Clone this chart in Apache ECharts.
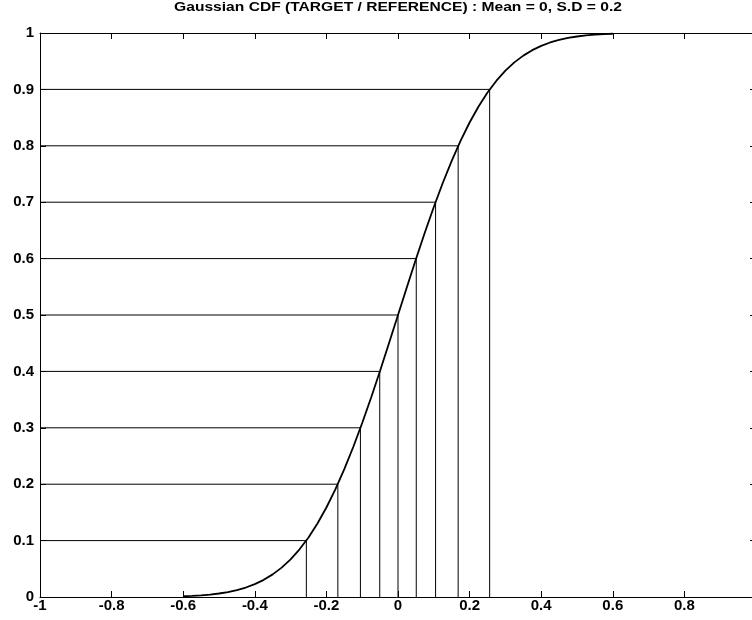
<!DOCTYPE html>
<html>
<head>
<meta charset="utf-8">
<script src="https://cdn.jsdelivr.net/npm/echarts@6/dist/echarts.min.js"></script>
<style>
  html, body { margin: 0; padding: 0; background: #fff; }
  #chart { width: 752px; height: 620px; }
</style>
</head>
<body>
<div id="chart"></div>
<script>
// Gaussian CDF, mean 0, standard deviation 0.2, sampled every 0.025 over +/- 3 S.D
const curveX = [-0.600, -0.575, -0.550, -0.525, -0.500, -0.475, -0.450, -0.425, -0.400, -0.375,
                -0.350, -0.325, -0.300, -0.275, -0.250, -0.225, -0.200, -0.175, -0.150, -0.125,
                -0.100, -0.075, -0.050, -0.025,  0.000,  0.025,  0.050,  0.075,  0.100,  0.125,
                 0.150,  0.175,  0.200,  0.225,  0.250,  0.275,  0.300,  0.325,  0.350,  0.375,
                 0.400,  0.425,  0.450,  0.475,  0.500,  0.525,  0.550,  0.575,  0.600];
const curveY = [0.0013, 0.0020, 0.0030, 0.0043, 0.0062, 0.0088, 0.0122, 0.0168, 0.0228, 0.0304,
                0.0401, 0.0521, 0.0668, 0.0846, 0.1056, 0.1303, 0.1587, 0.1908, 0.2266, 0.2660,
                0.3085, 0.3538, 0.4013, 0.4503, 0.5000, 0.5497, 0.5987, 0.6462, 0.6915, 0.7340,
                0.7734, 0.8092, 0.8413, 0.8697, 0.8944, 0.9154, 0.9332, 0.9479, 0.9599, 0.9696,
                0.9772, 0.9832, 0.9878, 0.9912, 0.9938, 0.9957, 0.9970, 0.9980, 0.9987];

// probability levels and the x at which the curve reaches each of them
const levels    = [0.1, 0.2, 0.3, 0.4, 0.5, 0.6, 0.7, 0.8, 0.9];
const quantiles = [-0.256, -0.168, -0.105, -0.051, 0, 0.051, 0.105, 0.168, 0.256];

const titleText = 'Gaussian CDF (TARGET / REFERENCE) : Mean = 0, S.D = 0.2';

const FONT = '"Liberation Sans", Arial, sans-serif';
const black = '#000';

const chart = echarts.init(document.getElementById('chart'), null, { renderer: 'canvas' });

const tickStyle = { inside: true, length: 6, lineStyle: { color: black, width: 1 } };
const lineStyleAxis = { show: true, onZero: false, lineStyle: { color: black, width: 1 } };
const labelStyle = { color: black, fontFamily: FONT, fontWeight: 'bold', fontSize: 15 };

// one step line per level: across from the left edge to the curve, then down to zero
const guideSeries = levels.map((p, i) => ({
  type: 'line',
  data: [[-1, p], [quantiles[i], p], [quantiles[i], 0]],
  showSymbol: false,
  symbol: 'none',
  lineStyle: { color: black, width: 1 },
  z: 2,
  silent: true
}));

chart.setOption({
  animation: false,
  backgroundColor: '#fff',
  grid: {
    left: 40, top: 33, width: 716, height: 564,
    containLabel: false,
    outerBoundsMode: 'none'
  },
  graphic: [{
    type: 'text',
    x: 398,
    y: 1,
    scaleX: 1.2,
    style: {
      text: titleText,
      align: 'center',
      verticalAlign: 'top',
      fill: black,
      font: 'bold 13px ' + FONT
    }
  }],
  xAxis: [
    {
      type: 'value', position: 'bottom', min: -1, max: 1, interval: 0.2,
      axisLine: lineStyleAxis, axisTick: tickStyle,
      axisLabel: Object.assign({ margin: 1 }, labelStyle),
      splitLine: { show: false }
    },
    {
      type: 'value', position: 'top', min: -1, max: 1, interval: 0.2,
      axisLine: lineStyleAxis, axisTick: tickStyle,
      axisLabel: { show: false }, splitLine: { show: false }
    }
  ],
  yAxis: [
    {
      type: 'value', position: 'left', min: 0, max: 1, interval: 0.1,
      axisLine: lineStyleAxis, axisTick: tickStyle,
      axisLabel: Object.assign({ margin: 6 }, labelStyle),
      splitLine: { show: false }
    },
    {
      type: 'value', position: 'right', min: 0, max: 1, interval: 0.1,
      axisLine: lineStyleAxis, axisTick: tickStyle,
      axisLabel: { show: false }, splitLine: { show: false }
    }
  ],
  series: guideSeries.concat([{
    type: 'line',
    data: curveX.map((x, i) => [x, curveY[i]]),
    smooth: false,
    showSymbol: false,
    symbol: 'none',
    lineStyle: { color: black, width: 1.8 },
    z: 3,
    silent: true
  }])
});
</script>
</body>
</html>
